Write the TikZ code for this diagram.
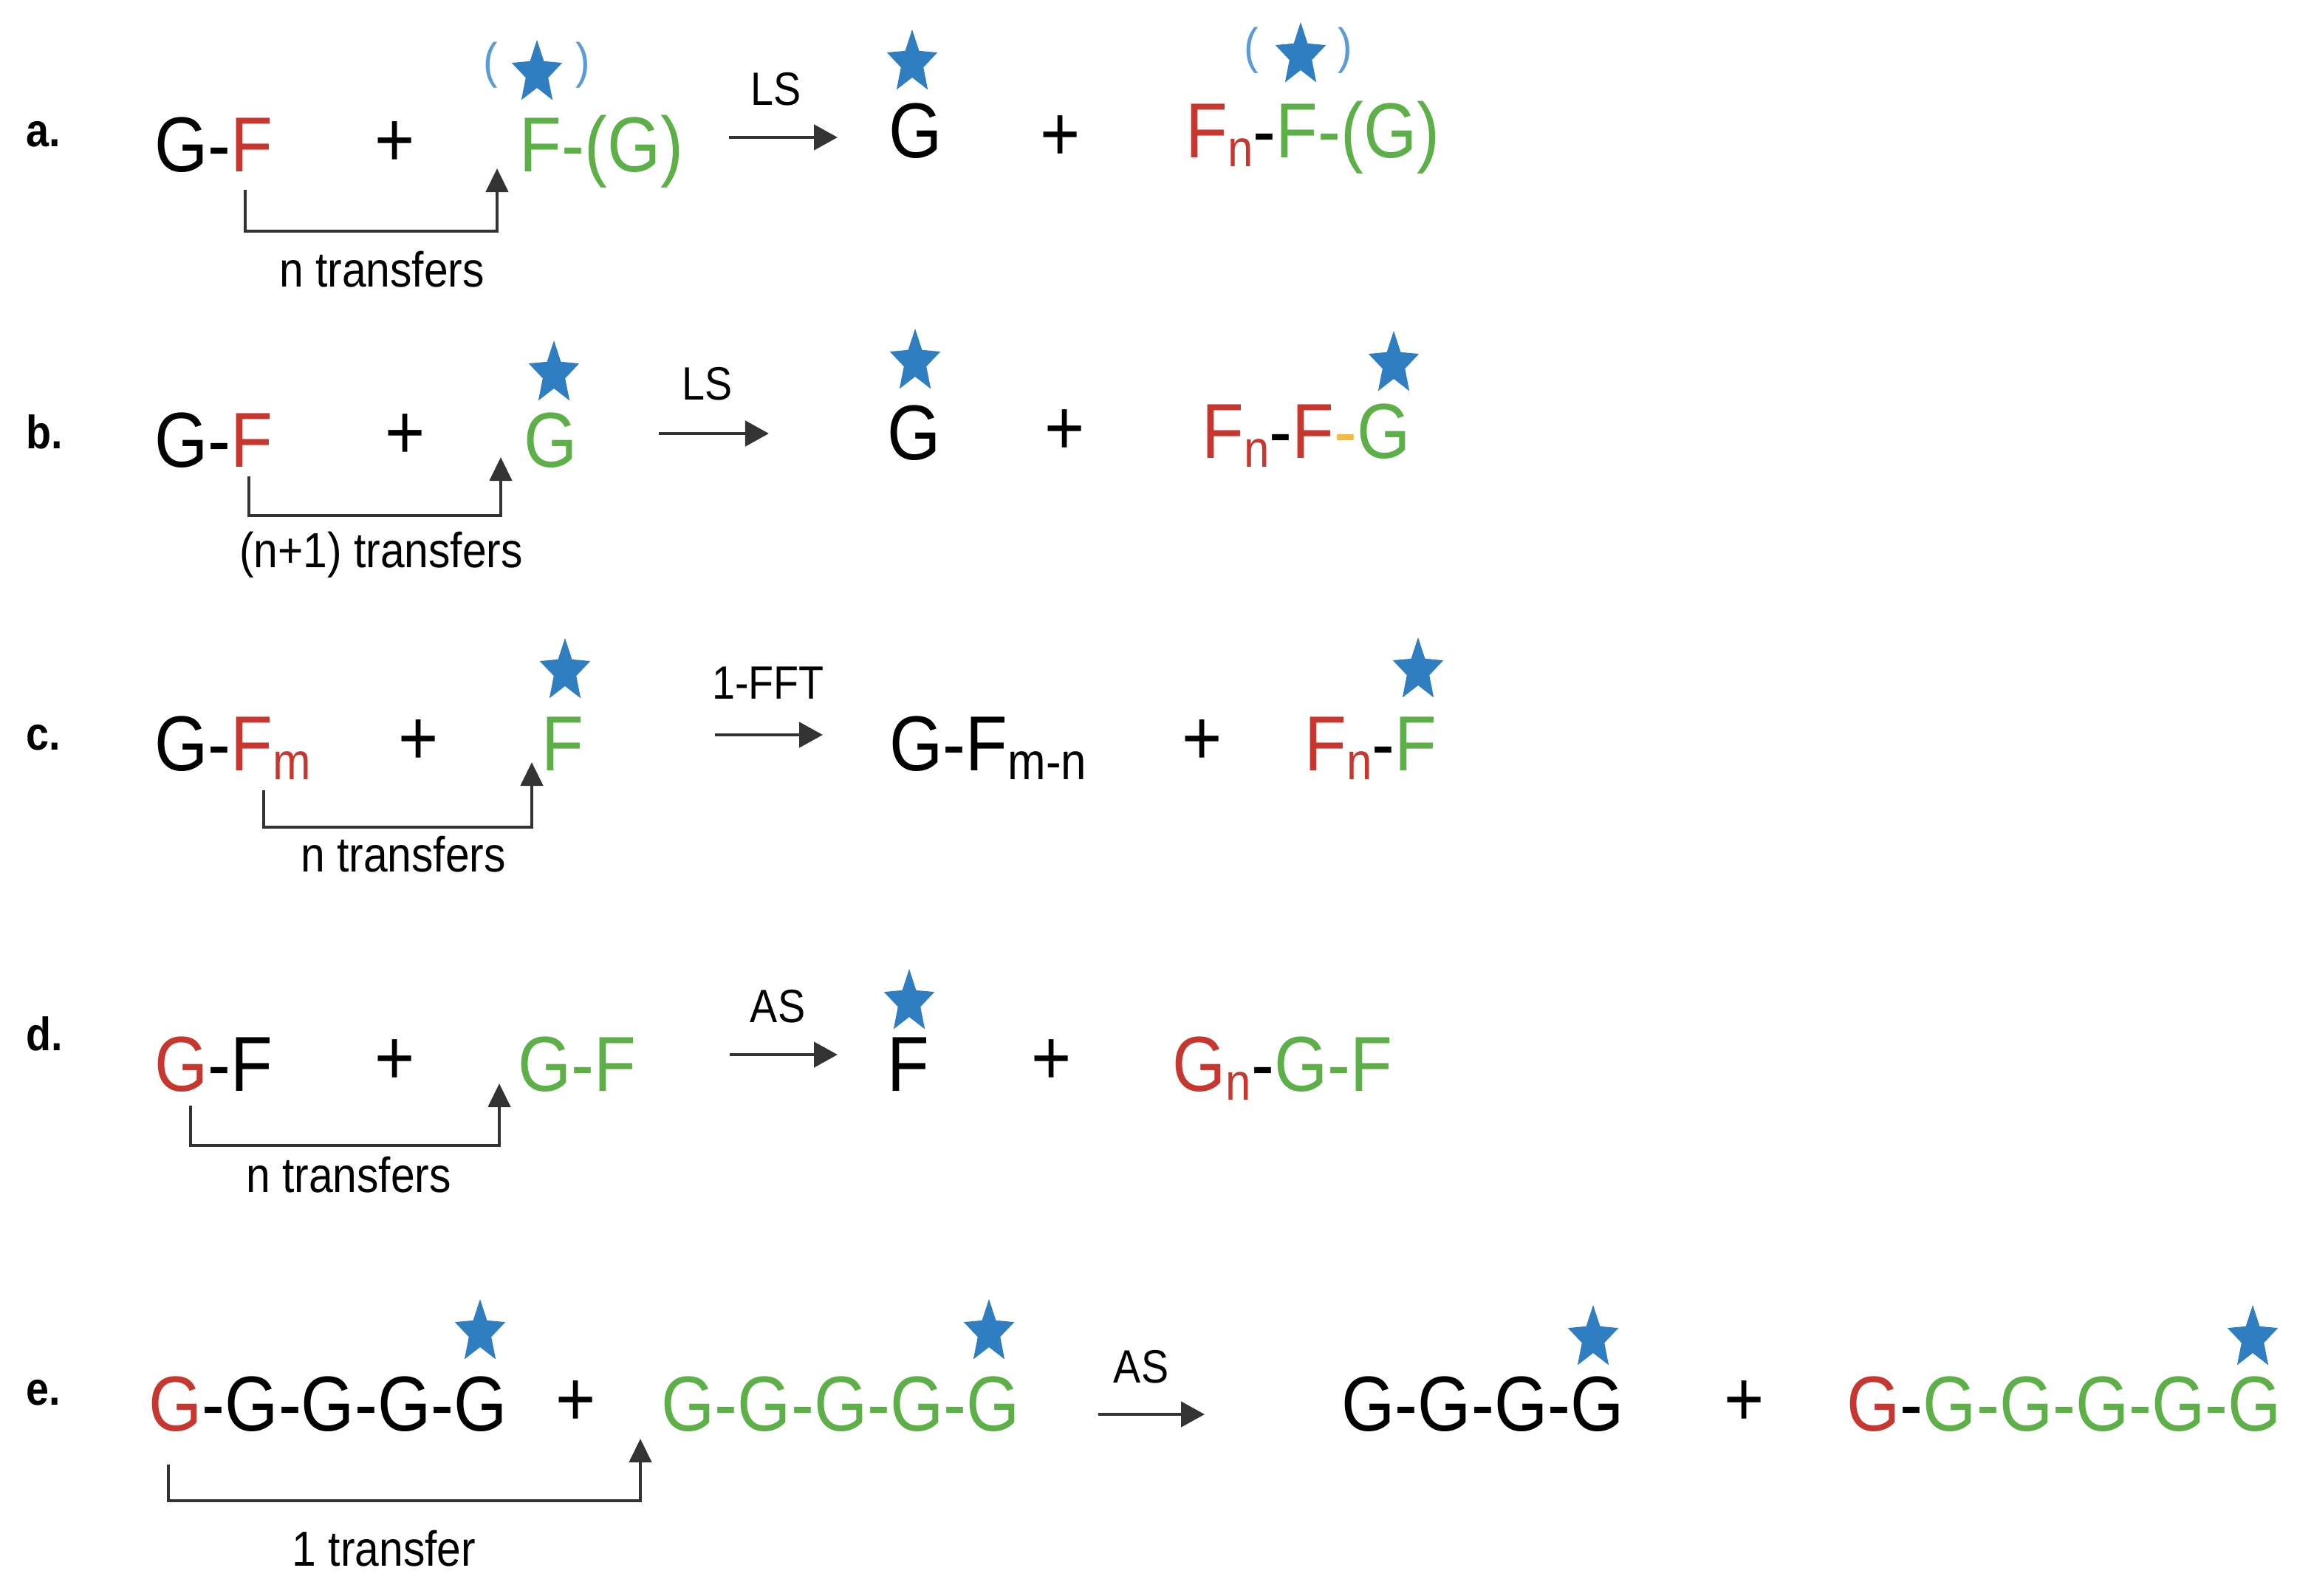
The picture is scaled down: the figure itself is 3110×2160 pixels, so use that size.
\documentclass[tikz,border=0pt]{standalone}
\usepackage{fontspec}
\setmainfont{Liberation Sans}[FakeStretch=0.88]
\usepackage{xcolor}
\definecolor{donRed}{HTML}{C7372F}
\definecolor{accGreen}{HTML}{5DAF48}
\definecolor{starBlue}{HTML}{2F7EC2}
\definecolor{parenBlue}{HTML}{5B9BD8}
\definecolor{linkOrange}{HTML}{F4B942}
\definecolor{arrowGrey}{HTML}{333333}
\usetikzlibrary{arrows.meta, shapes.geometric}
\newcommand{\subIdx}[1]{\raisebox{-3.5pt}{\fontsize{20}{20}\selectfont #1}}
\tikzset{
  %% chains of residues
  mol/.style       = {anchor=base west, inner sep=0pt, font=\fontsize{30}{36}\selectfont},
  plusSign/.style  = {inner sep=0pt, font=\fontsize{30}{36}\selectfont},
  %% labelled end of a chain
  starTag/.style   = {star, star points=5, star point ratio=2.25, fill=starBlue,
                      inner sep=0pt, minimum size=0.9cm, xscale=0.8},
  parenMark/.style = {inner sep=0pt, text=parenBlue, font=\fontsize{19}{22}\selectfont},
  %% text
  enzLabel/.style  = {anchor=base, inner sep=0pt, font=\fontsize{18}{22}\selectfont},
  xferLabel/.style = {anchor=base, inner sep=0pt, font=\fontsize{19}{23}\selectfont},
  rowLabel/.style  = {anchor=base west, inner sep=0pt, font=\fontsize{18}{22}\selectfont\bfseries},
  %% arrows
  reacArrow/.style = {-{Triangle[length=3.2mm, width=3.4mm]}, draw=arrowGrey, line width=1.4pt},
  xferArrow/.style = {-{Triangle[length=3.2mm, width=3.0mm]}, draw=arrowGrey, line width=1.3pt},
}

\begin{document}
\begin{tikzpicture}[x=0.01cm, y=-0.01cm]
\useasboundingbox (0,0) rectangle (3110,2160);

%% a. LS, sucrose as donor
\node[rowLabel] (labA) at (35,198) {a.};
\node[mol] (donA) at (209,232) {G-\textcolor{donRed}{F}};
\node[mol, text=accGreen] (accA) at (703,232) {F-(G)};
\node[enzLabel] (enzA) at (1051,142) {LS};
\node[mol] (prodA1) at (1203,213) {G};
\node[mol] (prodA2) at (1605,213) {\textcolor{donRed}{F\subIdx{n}}-\textcolor{accGreen}{F-(G)}};
\node[parenMark] (pA1l) at (664,88) {(};
\node[parenMark] (pA1r) at (789,88) {)};
\node[parenMark] (pA3l) at (1694,68) {(};
\node[parenMark] (pA3r) at (1821,68) {)};
\coordinate (xfA0) at (332,257); \coordinate (xfA1) at (673,228);
\draw[xferArrow] (xfA0) -- ++(0,56) -| (xfA1);
\node[xferLabel] (trA) at (517,388) {n transfers};

%% b. LS, glucose as acceptor
\node[rowLabel] (labB) at (35,607) {b.};
\node[mol] (donB) at (209,632) {G-\textcolor{donRed}{F}};
\node[mol, text=accGreen] (accB) at (709,632) {G};
\node[enzLabel] (enzB) at (958,541) {LS};
\node[mol] (prodB1) at (1201,622) {G};
\node[mol] (prodB2) at (1627,620) {\textcolor{donRed}{F\subIdx{n}}-\textcolor{donRed}{F}\textcolor{linkOrange}{-}\textcolor{accGreen}{G}};
\coordinate (xfB0) at (337,645); \coordinate (xfB1) at (678,619);
\draw[xferArrow] (xfB0) -- ++(0,53) -| (xfB1);
\node[xferLabel] (trB) at (516,768) {(n+1) transfers};

%% c. 1-FFT
\node[rowLabel] (labC) at (35,1015) {c.};
\node[mol] (donC) at (209,1043) {G-\textcolor{donRed}{F\subIdx{m}}};
\node[mol, text=accGreen] (accC) at (733,1043) {F};
\node[enzLabel] (enzC) at (1040,946) {1-FFT};
\node[mol] (prodC1) at (1204,1043) {G-F\subIdx{m-n}};
\node[mol] (prodC2) at (1766,1043) {\textcolor{donRed}{F\subIdx{n}}-\textcolor{accGreen}{F}};
\coordinate (xfC0) at (357,1070); \coordinate (xfC1) at (720,1032);
\draw[xferArrow] (xfC0) -- ++(0,50) -| (xfC1);
\node[xferLabel] (trC) at (546,1180) {n transfers};

%% d. AS, sucrose as acceptor
\node[rowLabel] (labD) at (35,1422) {d.};
\node[mol] (donD) at (209,1477) {\textcolor{donRed}{G}-F};
\node[mol, text=accGreen] (accD) at (701,1477) {G-F};
\node[enzLabel] (enzD) at (1053,1384) {AS};
\node[mol] (prodD1) at (1201,1477) {F};
\node[mol] (prodD2) at (1587,1477) {\textcolor{donRed}{G\subIdx{n}}-\textcolor{accGreen}{G-F}};
\coordinate (xfD0) at (258,1497); \coordinate (xfD1) at (676,1467);
\draw[xferArrow] (xfD0) -- ++(0,54) -| (xfD1);
\node[xferLabel] (trD) at (472,1614) {n transfers};

%% e. AS, glucan chains
\node[rowLabel] (labE) at (35,1902) {e.};
\node[mol] (donE) at (201,1937) {\textcolor{donRed}{G}-G-G-G-G};
\node[mol, text=accGreen] (accE) at (895,1937) {G-G-G-G-G};
\node[enzLabel] (enzE) at (1545,1872) {AS};
\node[mol] (prodE1) at (1816,1937) {G-G-G-G};
\node[mol] (prodE2) at (2500,1937) {\textcolor{donRed}{G}-\textcolor{accGreen}{G-G-G-G-G}};
\coordinate (xfE0) at (228,1983); \coordinate (xfE1) at (867,1948);
\draw[xferArrow] (xfE0) -- ++(0,49) -| (xfE1);
\node[xferLabel] (trE) at (520,2120) {1 transfer};

%% plus signs, reaction arrows, stars
\foreach \n/\x/\y in {A1/535/195, A2/1436/187, B1/549/591, B2/1442/585,
                      C1/567/1005, C2/1628/1005, D1/535/1438, D2/1424/1438,
                      E1/780/1900, E2/2362/1900}
  \node[plusSign] (plus\n) at (\x,\y) {+};
\foreach \n/\xa/\xb/\y in {A/987/1134/186, B/892/1041/587, C/968/1114/995,
                           D/988/1134/1428, E/1487/1631/1915} {
  \coordinate (rx\n0) at (\xa,\y); \coordinate (rx\n1) at (\xb,\y);
  \draw[reacArrow] (rx\n0) -- (rx\n1);
}
\foreach \n/\x/\y in {A1/727/99, A2/1235/85, A3/1761/75, B1/750/506, B2/1239/490,
                      B3/1887/493, C1/765/909, C2/1920/908, D1/1231/1357,
                      E1/650/1804, E2/1339/1804, E3/2157/1812, E4/3050/1812}
  \node[starTag] (st\n) at (\x,\y) {};

\end{tikzpicture}
\end{document}
